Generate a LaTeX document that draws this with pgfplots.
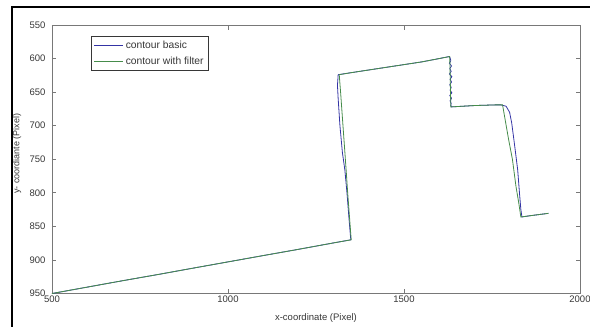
\documentclass[border=0pt]{standalone}
\usepackage{fontspec}
\setmainfont{Liberation Sans}
\usepackage{pgfplots}
\pgfplotsset{compat=1.18}
\definecolor{cblue}{RGB}{52,52,165}
\definecolor{cgreen}{RGB}{70,140,75}
\definecolor{axgray}{RGB}{120,120,120}
\definecolor{txtgray}{RGB}{55,55,55}
\begin{document}
\begin{tikzpicture}
\useasboundingbox (-52pt,-33.5pt) rectangle (538pt,293.5pt);
\begin{axis}[
  at={(0pt,0pt)}, anchor=south west,
  scale only axis, width=528pt, height=268.5pt,
  xmin=500, xmax=2000, ymin=550, ymax=950,
  y dir=reverse,
  xtick={500,1000,1500,2000},
  ytick={550,600,...,950},
  tick align=inside,
  major tick length=4.5pt,
  axis line style={axgray, line width=0.8pt},
  every tick/.style={axgray, line width=0.7pt},
  tick label style={font=\fontsize{9.5}{10}\selectfont, text=txtgray},
  /pgf/number format/assume math mode=true,
  /pgf/number format/set thousands separator={},
  xticklabel style={yshift=1pt},
  yticklabel style={xshift=-3pt},
  xlabel={x-coordinate (Pixel)},
  ylabel={y- coordiante (Pixel)},
  xlabel style={font=\fontsize{9.5}{11}\selectfont, text=txtgray, at={(axis description cs:0.5,0)}, anchor=center, yshift=-25pt},
  ylabel style={font=\fontsize{9}{10}\selectfont, text=txtgray, at={(axis description cs:-0.0663,0.52)}, anchor=center},
  legend style={at={(axis description cs:0.0733,0.96)}, anchor=north west,
    draw=txtgray, line width=0.7pt, font=\fontsize{10.3}{11}\selectfont, text=txtgray,
    inner xsep=3pt, inner ysep=2.5pt, row sep=3pt},
  legend cell align=left,
  legend image code/.code={\draw[#1, line width=0.7pt] (0pt,0pt) -- (29pt,0pt);},
]
\addplot[cblue, line width=0.8pt] coordinates {
(500,950) (600,940.5) (700,931) (800,921.8) (900,912.3) (1000,902.9) (1100,893.5) (1200,884.2) (1300,874.6) (1349,870)
(1348,865) (1344,840) (1338,800) (1332,766) (1325,740) (1318,700) (1313,660) (1311,640) (1313,624)
(1350,621) (1400,617) (1450,613) (1500,609) (1550,605) (1600,600) (1628,597)
(1631,599) (1633,603) (1629,607) (1635,611) (1630,615) (1634,619) (1629,623) (1636,627) (1631,631) (1635,635) (1630,639) (1634,643) (1631,647) (1636,651) (1630,655) (1635,659) (1631,663) (1634,667) (1633,670) (1635,672)
(1700,670) (1760,669) (1775,669) (1790,671) (1800,680) (1806,696) (1812,720) (1818,745) (1823,766) (1828,800) (1832,825) (1835,836)
(1860,834) (1910,830.6)
};
\addlegendentry{contour basic}
\addplot[cgreen, line width=0.8pt] coordinates {
(500,950) (600,940.5) (700,931) (800,921.8) (900,912.3) (1000,902.9) (1100,893.5) (1200,884.2) (1300,874.6) (1350,870)
(1340,800) (1335.6,766) (1328,710) (1320,651) (1316,624)
(1350,621) (1400,617) (1450,613) (1500,609) (1550,605) (1600,600) (1630,597)
(1633,672)
(1700,670) (1760,669) (1780,669) (1797,720) (1808,750) (1818,790) (1826,815) (1832,836)
(1860,834) (1910,830.6)
};
\addlegendentry{contour with filter}
\end{axis}
\draw[black, line width=2pt] (-39.5pt,-33.5pt) -- (-39.5pt,286.5pt) -- (538pt,286.5pt);
\end{tikzpicture}
\end{document}
